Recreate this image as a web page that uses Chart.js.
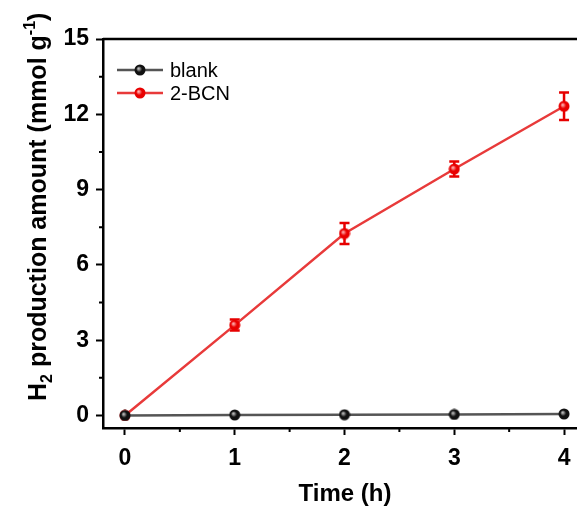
<!DOCTYPE html>
<html>
<head>
<meta charset="utf-8">
<script src="https://cdn.jsdelivr.net/npm/chart.js@4/dist/chart.umd.min.js"></script>
<style>
  html, body { margin: 0; padding: 0; background: #fff; overflow: hidden; }
  #wrap { position: absolute; left: 0; top: 0; width: 600px; height: 510px; }
</style>
</head>
<body>
<div id="wrap"><canvas id="my-chart" width="600" height="510"></canvas></div>
<script>
// data
const times = [0, 1, 2, 3, 4];
const blank = [0, 0.02, 0.03, 0.04, 0.06];
const bcn = [0, 3.6, 7.25, 9.82, 12.32];
const bcnErr = [0, 0.22, 0.42, 0.3, 0.55];

const xTicks = [0, 1, 2, 3, 4];
const xMinor = [0.5, 1.5, 2.5, 3.5];
const yTicks = [0, 3, 6, 9, 12, 15];
const yMinor = [1.5, 4.5, 7.5, 10.5, 13.5];

const RED = '#e83a3a';
const GRAY = '#555555';
const FONT = '"Liberation Sans", Arial, sans-serif';

// little shaded balls for the markers
function makeBall(base, light) {
  const c = document.createElement('canvas');
  c.width = 12;
  c.height = 12;
  const g = c.getContext('2d');
  const grad = g.createRadialGradient(4.5, 4.5, 0.5, 6, 6, 6);
  grad.addColorStop(0, light);
  grad.addColorStop(0.45, base);
  grad.addColorStop(1, base);
  g.fillStyle = grad;
  g.beginPath();
  g.arc(6, 6, 5.5, 0, Math.PI * 2);
  g.fill();
  return c;
}
const blackBall = makeBall('#111', '#bbb');
const redBall = makeBall('#e80000', '#ffb0b0');

const extras = {
  id: 'extras',
  beforeDatasetDraw(chart, args) {
    if (args.index !== 1) return;
    const ctx = chart.ctx;
    const x = chart.scales.x;
    const y = chart.scales.y;
    ctx.save();
    ctx.strokeStyle = '#e60000';
    ctx.lineWidth = 2.5;
    times.forEach((t, i) => {
      if (!bcnErr[i]) return;
      const px = x.getPixelForValue(t);
      const top = y.getPixelForValue(bcn[i] + bcnErr[i]);
      const bot = y.getPixelForValue(bcn[i] - bcnErr[i]);
      ctx.beginPath();
      ctx.moveTo(px, top); ctx.lineTo(px, bot);
      ctx.moveTo(px - 5, top); ctx.lineTo(px + 5, top);
      ctx.moveTo(px - 5, bot); ctx.lineTo(px + 5, bot);
      ctx.stroke();
    });
    ctx.restore();
  },
  afterDraw(chart) {
    const ctx = chart.ctx;
    const a = chart.chartArea;
    const x = chart.scales.x;
    const y = chart.scales.y;
    ctx.save();
    // top frame
    ctx.strokeStyle = '#000';
    ctx.lineWidth = 2.5;
    ctx.beginPath();
    ctx.moveTo(a.left, a.top);
    ctx.lineTo(a.right + 10, a.top);
    ctx.stroke();
    // minor ticks
    ctx.lineWidth = 2;
    ctx.beginPath();
    xMinor.forEach(v => {
      const px = x.getPixelForValue(v);
      ctx.moveTo(px, a.bottom); ctx.lineTo(px, a.bottom + 4);
    });
    yMinor.forEach(v => {
      const py = y.getPixelForValue(v);
      ctx.moveTo(a.left, py); ctx.lineTo(a.left - 4, py);
    });
    ctx.stroke();

    // legend
    const items = [
      { label: 'blank', color: GRAY, ball: blackBall, y: 70 },
      { label: '2-BCN', color: RED, ball: redBall, y: 93 }
    ];
    items.forEach(it => {
      ctx.strokeStyle = it.color;
      ctx.lineWidth = 2.5;
      ctx.beginPath();
      ctx.moveTo(117, it.y); ctx.lineTo(163, it.y);
      ctx.stroke();
      ctx.drawImage(it.ball, 140 - 6, it.y - 6);
      ctx.fillStyle = '#000';
      ctx.font = '20px ' + FONT;
      ctx.textAlign = 'left';
      ctx.textBaseline = 'middle';
      ctx.fillText(it.label, 170, it.y + 1);
    });

    // y axis title with sub/superscript
    ctx.translate(46, 401);
    ctx.rotate(-Math.PI / 2);
    ctx.textAlign = 'left';
    ctx.textBaseline = 'alphabetic';
    ctx.fillStyle = '#000';
    const big = 'bold 25px ' + FONT;
    const small = 'bold 16px ' + FONT;
    const parts = [
      ['H', big, 0], ['2', small, 6], [' production amount (mmol g', big, 0],
      ['-1', small, -11], [')', big, 0]
    ];
    let cx = 0;
    parts.forEach(p => {
      ctx.font = p[1];
      ctx.fillText(p[0], cx, p[2]);
      cx += ctx.measureText(p[0]).width;
    });
    ctx.restore();

    // x axis title
    ctx.save();
    ctx.font = 'bold 24px ' + FONT;
    ctx.fillStyle = '#000';
    ctx.textAlign = 'center';
    ctx.textBaseline = 'middle';
    ctx.fillText('Time (h)', 345, 494);
    ctx.restore();
  }
};

const ctx = document.getElementById('my-chart').getContext('2d');

const myChart = new Chart(ctx, {
  type: 'line',
  data: {
    datasets: [
      {
        label: 'blank',
        data: times.map((t, i) => ({ x: t, y: blank[i] })),
        borderColor: GRAY,
        borderWidth: 2.5,
        pointStyle: blackBall,
        pointRadius: 6,
        tension: 0
      },
      {
        label: '2-BCN',
        data: times.map((t, i) => ({ x: t, y: bcn[i] })),
        borderColor: RED,
        borderWidth: 2.5,
        pointStyle: redBall,
        pointRadius: 6,
        tension: 0
      }
    ]
  },
  options: {
    responsive: false,
    animation: false,
    layout: { padding: { top: 39, right: 14, left: 0, bottom: 0 } },
    plugins: { legend: { display: false }, tooltip: { enabled: false } },
    scales: {
      x: {
        type: 'linear',
        min: -0.2,
        max: 4.2,
        afterBuildTicks: s => { s.ticks = xTicks.map(v => ({ value: v })); },
        afterFit: s => { s.height = 82; },
        border: { color: '#000', width: 2.5 },
        grid: { drawOnChartArea: false, tickLength: 7, tickColor: '#000', tickWidth: 2 },
        ticks: {
          color: '#000',
          padding: 10,
          font: { family: FONT, size: 23, weight: 'bold' },
          maxRotation: 0
        }
      },
      y: {
        min: -0.5,
        max: 15,
        afterBuildTicks: s => { s.ticks = yTicks.map(v => ({ value: v })); },
        afterFit: s => { s.width = 103; },
        border: { color: '#000', width: 2.5 },
        grid: { drawOnChartArea: false, tickLength: 7, tickColor: '#000', tickWidth: 2 },
        ticks: {
          color: '#000',
          padding: 7,
          font: { family: FONT, size: 23, weight: 'bold' }
        }
      }
    }
  },
  plugins: [extras]
});
</script>
</body>
</html>
